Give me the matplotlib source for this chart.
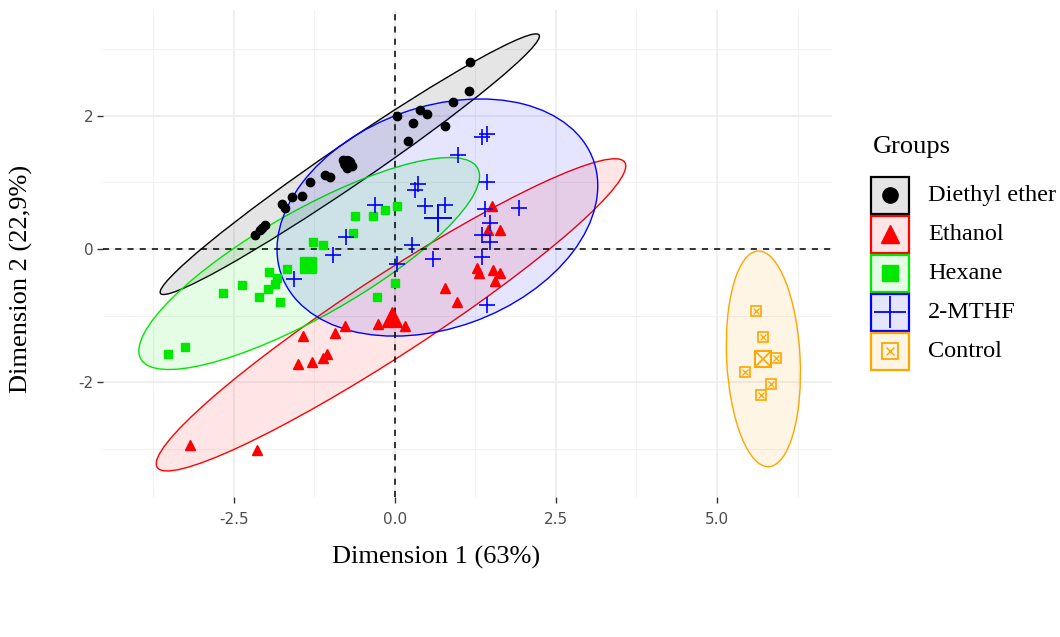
import numpy as np
import matplotlib
matplotlib.use("Agg")
import matplotlib.pyplot as plt
from matplotlib.patches import Ellipse, Rectangle
from matplotlib.colors import to_rgba

plt.rcParams['axes.unicode_minus'] = False

# individual coordinates on the first two dimensions, per extraction solvent
groups = ["Diethyl ether", "Ethanol", "Hexane", "2-MTHF", "Control"]
colors = ["#000000", "#FF0000", "#00E800", "#0000FF", "#FFA500"]

ether_x = [1.16, 1.15, 0.90, 0.39, 0.50, 0.03, 0.28, 0.78, 0.20, -0.80, -0.70, -0.75, -0.66,
           -1.01, -1.09, -1.32, -1.44, -1.60, -1.75, -1.71, -2.02, -2.06, -2.17, -2.10]
ether_y = [2.80, 2.37, 2.20, 2.08, 2.02, 1.99, 1.89, 1.84, 1.62, 1.33, 1.30, 1.22, 1.25,
           1.08, 1.11, 1.00, 0.79, 0.78, 0.67, 0.61, 0.36, 0.31, 0.21, 0.28]

ethanol_x = [1.50, 1.44, 1.63, 1.28, 1.30, 1.52, 1.63, 1.55, 0.78, 0.96, -0.26, 0.16,
             -0.78, -0.93, -1.43, -1.50, -1.29, -1.12, -1.05, -3.18, -2.14]
ethanol_y = [0.65, 0.29, 0.28, -0.28, -0.36, -0.31, -0.36, -0.48, -0.59, -0.80, -1.12, -1.15,
             -1.15, -1.26, -1.30, -1.72, -1.69, -1.63, -1.58, -2.94, -3.01]

hexane_x = [0.03, -0.16, -0.34, -0.62, -0.65, -1.27, -1.12, -1.67, -1.95, -1.83, -1.86,
            -1.97, -2.37, -2.67, -2.11, -1.78, 0.00, -0.28, -3.26, -3.52]
hexane_y = [0.64, 0.58, 0.49, 0.49, 0.24, 0.11, 0.06, -0.30, -0.34, -0.43, -0.52,
            -0.60, -0.54, -0.66, -0.72, -0.79, -0.51, -0.72, -1.47, -1.57]

mthf_x = [1.43, 1.36, 0.98, 1.43, 0.36, 0.31, 0.47, 0.78, -0.31, -0.76, -0.96, -1.57,
          0.26, 0.03, 0.59, 1.40, 1.92, 1.47, 1.35, 1.47, 1.35, 1.43]
mthf_y = [1.72, 1.68, 1.41, 1.01, 0.97, 0.88, 0.64, 0.66, 0.66, 0.18, -0.09, -0.45,
          0.06, -0.22, -0.15, 0.60, 0.62, 0.39, 0.21, 0.10, -0.12, -0.84]

control_x = [5.60, 5.72, 5.92, 5.44, 5.84, 5.69]
control_y = [-0.93, -1.32, -1.64, -1.84, -2.02, -2.19]

# group barycentres
center_x = [-0.74, -0.05, -1.35, 0.67, 5.71]
center_y = [1.29, -1.02, -0.24, 0.46, -1.65]

# concentration ellipses: centre, full axes lengths, rotation (deg)
ell_cx = [-0.70, -0.06, -1.33, 0.66, 5.72]
ell_cy = [1.27, -0.99, -0.22, 0.47, -1.65]
ell_w = [7.04, 8.58, 5.96, 5.14, 3.24]
ell_h = [0.62, 1.20, 1.60, 3.32, 1.14]
ell_ang = [33.4, 32.2, 28.6, 19.0, 93.0]

serif = "Liberation Serif"

fig = plt.figure(figsize=(10.6, 6.37), dpi=100)
ax = fig.add_axes([0.0972, 0.220, 0.688, 0.764])
ax.set_xlim(-4.53, 6.79)
ax.set_ylim(-3.72, 3.58)

for s in ax.spines.values():
    s.set_visible(False)
ax.set_xticks([-2.5, 0.0, 2.5, 5.0])
ax.set_xticklabels(["-2.5", "0.0", "2.5", "5.0"])
ax.set_yticks([-2, 0, 2])
ax.set_xticks([-3.75, -1.25, 1.25, 3.75, 6.25], minor=True)
ax.set_yticks([-3, -1, 1, 3], minor=True)
ax.tick_params(which='major', length=4, width=1, color='#333333',
               labelsize=11, labelcolor='#4d4d4d')
ax.tick_params(axis='x', which='major', pad=7)
ax.tick_params(axis='y', which='major', pad=3)
ax.tick_params(which='minor', length=0)
ax.grid(True, which='major', color='#ebebeb', lw=1.1)
ax.grid(True, which='minor', color='#f2f2f2', lw=0.8)
ax.set_axisbelow(True)

# ellipses under everything else
for i in range(len(groups)):
    c = colors[i]
    ax.add_patch(Ellipse((ell_cx[i], ell_cy[i]), ell_w[i], ell_h[i], angle=ell_ang[i],
                         facecolor=to_rgba(c, 0.1), edgecolor=c, lw=1.0, zorder=2))

ax.axhline(0, color='black', ls=(0, (4, 4)), lw=1.1, zorder=3)
ax.axvline(0, color='black', ls=(0, (4, 4)), lw=1.1, zorder=3)

# points
ax.plot(ether_x, ether_y, 'o', ms=6, color=colors[0], zorder=4)
ax.plot(ethanol_x, ethanol_y, '^', ms=7, color=colors[1], zorder=4)
ax.plot(hexane_x, hexane_y, 's', ms=5.5, color=colors[2], zorder=4)
ax.plot(mthf_x, mthf_y, '+', ms=11, mew=1.2, color=colors[3], zorder=4)
ax.plot(control_x, control_y, 's', ms=6.5, mfc='none', mew=1.2, color=colors[4], zorder=4)
ax.plot(control_x, control_y, 'x', ms=4, mew=0.9, color=colors[4], zorder=4)

# barycentres, drawn larger
ax.plot(center_x[0], center_y[0], 'o', ms=10, color=colors[0], zorder=5)
ax.plot(center_x[1], center_y[1], '^', ms=14, color=colors[1], zorder=5)
ax.plot(center_x[2], center_y[2], 's', ms=11, color=colors[2], zorder=5)
ax.plot(center_x[3], center_y[3], '+', ms=20, mew=1.4, color=colors[3], zorder=5)
ax.plot(center_x[4], center_y[4], 's', ms=12, mfc='none', mew=1.4, color=colors[4], zorder=5)
ax.plot(center_x[4], center_y[4], 'x', ms=10, mew=1.2, color=colors[4], zorder=5)

ax.set_xlabel("Dimension 1 (63%)", family=serif, fontsize=19)
ax.set_ylabel("Dimension 2 (22,9%)", family=serif, fontsize=19)
ax.xaxis.set_label_coords(0.456, -0.100)
ax.yaxis.set_label_coords(-0.096, 0.448)

# legend drawn by hand in its own pixel-scaled axes
lax = fig.add_axes([860 / 1060, 1 - 375 / 637, 200 / 1060, 245 / 637])
lax.set_xlim(0, 200)
lax.set_ylim(245, 0)
lax.axis('off')
lax.text(13, 17, "Groups", family=serif, fontsize=19, va='center', ha='left')

key_mk = [dict(marker='o', ms=11), dict(marker='^', ms=13), dict(marker='s', ms=11),
          dict(marker='+', ms=23, mew=1.3)]
for i, g in enumerate(groups):
    c = colors[i]
    yc = 65 + 39.1 * i
    lax.add_patch(Rectangle((11, yc - 18.5), 38, 37, facecolor=to_rgba(c, 0.1),
                            edgecolor=c, lw=1.6))
    if i < 4:
        lax.plot(30, yc, ls='none', color=c, **key_mk[i])
    else:
        lax.plot(30, yc, 's', ms=11, mfc='none', mew=1.3, color=c)
        lax.plot(30, yc, 'x', ms=6, mew=1.0, color=c)
    lax.text(68, yc, g, family=serif, fontsize=17.5, va='center', ha='left')

fig.savefig("out.png", dpi=100, facecolor='white')
